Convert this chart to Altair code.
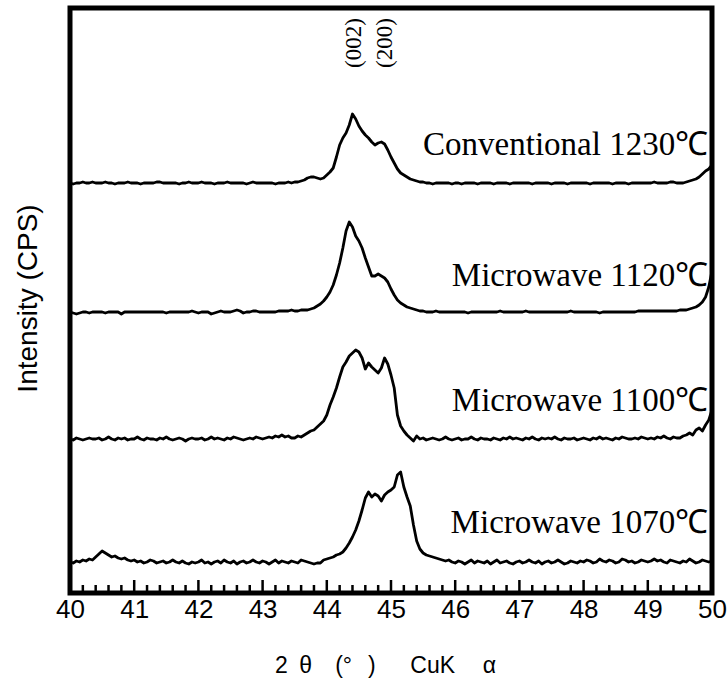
import altair as alt
import pandas as pd

# 2-theta grid (deg), step 0.05 from 40 to 50
two_theta = [round(40 + 0.05 * i, 2) for i in range(201)]

# Intensities (arbitrary units, curves already offset as in the figure)
conventional_1230 = [
    410,409,410,410,411,410,410,411,410,410,410,411,410,410,409,410,410,410,411,410,
    410,410,409,410,410,410,410,411,411,410,410,410,410,410,409,410,410,411,410,410,
    410,411,410,410,410,409,410,410,410,411,410,410,410,410,410,409,410,411,410,410,
    410,410,410,410,409,410,410,410,411,410,411,411,412,413,415,416,416,415,414,415,
    418,421,425,436,448,455,460,468,479,474,467,462,458,455,451,448,450,451,449,443,
    436,430,424,420,418,416,414,413,412,411,411,410,410,409,410,410,410,410,410,409,
    410,410,409,410,410,410,410,409,410,410,410,410,409,410,410,410,410,409,410,410,
    410,410,410,410,409,410,410,410,410,410,409,410,410,410,410,409,410,410,410,410,
    410,410,409,410,410,410,410,410,410,409,410,410,410,410,409,410,410,410,410,410,
    410,410,411,410,410,410,410,411,411,410,410,410,411,412,413,414,416,419,422,424,
    428,
]
microwave_1120 = [
    281,280,279,280,281,281,280,281,281,281,281,280,281,281,281,281,279,281,281,281,
    281,281,281,281,281,281,281,281,281,281,280,281,281,281,281,281,281,281,282,281,
    280,281,281,281,279,280,281,282,281,281,281,282,283,282,280,281,281,282,282,281,
    281,281,281,281,281,282,282,282,282,283,282,282,283,283,283,284,285,287,289,292,
    296,301,308,318,330,345,362,371,366,357,352,345,335,326,317,317,319,317,315,311,
    304,298,293,290,288,286,285,284,283,282,282,281,281,281,282,281,281,281,281,281,
    281,281,281,281,280,281,281,281,281,281,281,281,281,281,282,281,281,281,281,281,
    281,281,282,281,281,281,281,281,281,281,281,281,281,281,281,281,282,281,281,281,
    281,281,281,281,281,280,281,281,281,281,281,281,281,281,281,281,281,282,282,282,
    282,282,282,282,282,282,282,282,282,282,283,283,283,284,285,286,288,291,296,306,
    322,
]
microwave_1100 = [
    154,153,155,154,153,154,155,154,154,155,153,154,156,154,153,155,154,155,153,154,
    154,156,154,153,155,154,154,153,155,154,156,154,153,154,155,154,152,154,155,154,
    154,155,153,154,156,154,155,154,153,155,154,156,155,154,153,154,155,154,156,155,
    154,155,156,155,157,156,158,156,157,155,155,157,156,158,160,162,163,166,169,172,
    178,188,196,205,216,226,231,237,240,243,241,235,224,230,226,223,220,225,235,229,
    218,205,178,167,162,158,155,152,157,154,155,153,154,155,154,153,154,156,154,153,
    154,155,153,154,154,156,154,153,155,154,154,153,155,154,153,155,154,156,154,155,
    154,153,155,154,156,154,153,155,154,155,154,156,154,153,155,154,154,155,153,154,
    155,154,153,155,154,156,154,155,154,153,155,154,156,155,154,154,155,154,156,155,
    154,155,154,156,155,157,155,154,156,155,155,157,158,160,158,163,165,162,168,173,
    183,
]
microwave_1070 = [
    31,30,32,31,33,32,34,33,36,39,42,40,38,36,37,35,34,35,33,32,
    33,31,32,30,31,33,32,30,31,32,30,31,33,31,30,32,30,29,31,30,
    31,33,30,31,29,31,32,30,33,31,30,32,29,31,32,30,31,33,31,30,
    32,31,29,31,33,30,32,31,30,32,31,30,33,32,31,30,29,30,30,33,
    34,35,36,38,39,41,45,50,56,63,72,83,95,101,96,99,97,92,98,101,
    103,106,118,121,106,96,87,68,52,44,40,38,37,36,35,34,33,32,33,31,
    30,32,31,29,31,33,30,32,31,30,32,29,31,33,30,31,32,30,29,31,
    32,30,31,33,31,30,32,29,31,32,30,31,33,31,29,30,32,31,30,32,
    31,33,32,30,31,34,32,31,33,32,30,31,34,33,31,32,30,31,33,32,
    31,32,34,32,33,31,30,33,32,31,30,32,31,34,32,30,31,33,32,31,
    32,
]

series_names = ["Conventional 1230℃", "Microwave 1120℃", "Microwave 1100℃", "Microwave 1070℃"]
series_values = [conventional_1230, microwave_1120, microwave_1100, microwave_1070]

# label anchor positions (data units)
label_x = [49.94, 49.94, 49.94, 49.94]
label_y = [448, 317, 192, 70]

peak_names = ["(002)", "(200)"]
peak_x = [44.42, 44.9]
peak_y = [550, 550]

major_ticks = list(range(40, 51))
minor_ticks = [round(40 + 0.2 * i, 1) for i in range(51) if i % 5 != 0]

rows = []
for name, vals in zip(series_names, series_values):
    for t, v in zip(two_theta, vals):
        rows.append({"two_theta": t, "intensity": v, "series": name})
df = pd.DataFrame(rows)

labels_df = pd.DataFrame({"two_theta": label_x, "intensity": label_y, "text": series_names})
peaks_df = pd.DataFrame({"two_theta": peak_x, "intensity": peak_y, "text": peak_names})
major_df = pd.DataFrame({"two_theta": major_ticks})
minor_df = pd.DataFrame({"two_theta": minor_ticks})
frame_df = pd.DataFrame({"k": [0]})

W, H = 642, 585
xscale = alt.Scale(domain=[40, 50], nice=False, zero=False)
yscale = alt.Scale(domain=[0, 585], nice=False, zero=False)

x_title = "2\u2002\u03b8\u2003(°\u2002\u2009)\u2003\u2002CuK\u2003\u2009\u03b1"

X = alt.X("two_theta:Q", scale=xscale,
          axis=alt.Axis(values=major_ticks, tickSize=0, domain=False, grid=False,
                        labelFontSize=26, labelFont="Liberation Sans", labelColor="black",
                        labelPadding=3, labelFlush=False, format="d",
                        title=x_title, titleFontSize=23, titleFont="Liberation Sans",
                        titleFontWeight="normal", titleColor="black",
                        titleX=315, titleY=72, titleBaseline="middle", titleAlign="center"))
Y = alt.Y("intensity:Q", scale=yscale,
          axis=alt.Axis(labels=False, ticks=False, domain=False, grid=False,
                        title="Intensity (CPS)", titleFontSize=28, titleFont="Liberation Sans",
                        titleFontWeight="normal", titleColor="black",
                        titleX=-42, titleY=290, titleAngle=270,
                        titleAlign="center", titleBaseline="middle"))

lines = alt.Chart(df).mark_line(color="black", strokeWidth=2.8, strokeJoin="round").encode(
    x=X, y=Y, detail="series:N",
)

labels = alt.Chart(labels_df).mark_text(
    align="right", baseline="middle", font="Liberation Serif", fontSize=33, color="black"
).encode(x=X, y=Y, text="text:N")

peaks = alt.Chart(peaks_df).mark_text(
    align="center", baseline="middle", font="Liberation Serif", fontSize=23, color="black", angle=270
).encode(x=X, y=Y, text="text:N")

frame = alt.Chart(frame_df).mark_rect(filled=False, stroke="black", strokeWidth=5).encode(
    x=alt.value(0), x2=alt.value(W), y=alt.value(0), y2=alt.value(H),
)

major = alt.Chart(major_df).mark_rule(color="black", strokeWidth=2.5).encode(
    x=X, y=alt.datum(0), y2=alt.datum(13),
)
minor = alt.Chart(minor_df).mark_rule(color="black", strokeWidth=2.5).encode(
    x=X, y=alt.datum(0), y2=alt.datum(8),
)

chart = alt.layer(frame, lines, major, minor, labels, peaks).properties(
    width=W, height=H,
    autosize=alt.AutoSizeParams(type="none"),
    padding={"left": 70, "top": 8, "right": 16, "bottom": 102},
    background="white",
).configure_view(strokeWidth=0)

chart.save("out.html", embed_options={"renderer": "svg", "actions": False})
